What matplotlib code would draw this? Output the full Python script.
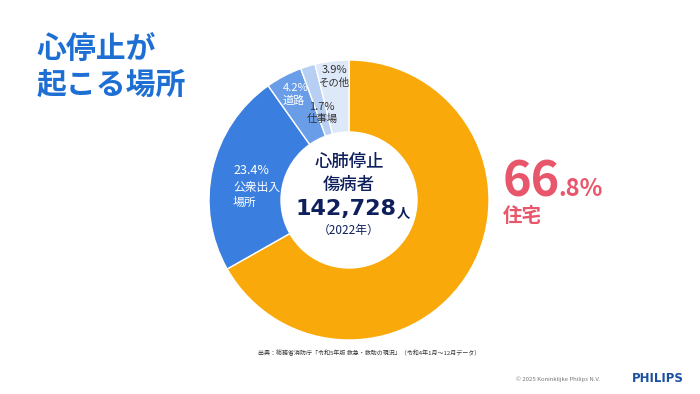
import matplotlib.pyplot as plt
from matplotlib.patches import Circle

plt.rcParams['font.family'] = ['Noto Sans CJK JP', 'DejaVu Sans']

# --- data ---
places = ['住宅', '公衆出入場所', '道路', '仕事場', 'その他']
shares = [66.8, 23.4, 4.2, 1.7, 3.9]
colors = ['#F9A90A', '#3A7FE0', '#6A9DE8', '#B7CFF3', '#DDE8F8']
total_patients = '142,728'
year = 2022

fig = plt.figure(figsize=(7, 3.94), dpi=100)
ax = fig.add_axes([0, 0, 1, 1])

H = 394
cx, cy = 349, H - 200
ax.pie(shares, colors=colors, startangle=90, counterclock=False,
       center=(cx, cy), radius=140, frame=True,
       wedgeprops=dict(edgecolor='white', linewidth=1.0, width=140))
ax.add_patch(Circle((cx, cy), 68, color='white', zorder=3))
ax.set_xlim(0, 700)
ax.set_ylim(0, 394)
ax.set_aspect('equal')
ax.axis('off')

# title
title_c = '#1E6FD3'
ax.text(37, H - 50, '心停止が', fontsize=21.5, fontweight='bold', color=title_c, va='center')
ax.text(37, H - 85, '起こる場所', fontsize=21.5, fontweight='bold', color=title_c, va='center')

# wedge labels
ax.text(233, H - 170, f'{shares[1]}%', fontsize=9, color='white', va='center')
ax.text(233, H - 187, '公衆出入', fontsize=8.5, color='white', va='center')
ax.text(233, H - 202, '場所', fontsize=8.5, color='white', va='center')
ax.text(296, H - 88, f'{shares[2]}%', fontsize=8, color='white', va='center', ha='center')
ax.text(294, H - 101, places[2], fontsize=8, color='white', va='center', ha='center')
ax.text(322, H - 107, f'{shares[3]}%', fontsize=8, color='#333333', va='center', ha='center')
ax.text(322, H - 119, places[3], fontsize=7.5, color='#333333', va='center', ha='center')
ax.text(334, H - 70, f'{shares[4]}%', fontsize=8, color='#333333', va='center', ha='center')
ax.text(334, H - 83, places[4], fontsize=7.5, color='#333333', va='center', ha='center')

# center text
navy = '#0E1F5C'
ax.text(cx, H - 162, '心肺停止', fontsize=12.5, fontweight='medium', color=navy,
        ha='center', va='center', zorder=4)
ax.text(cx, H - 185, '傷病者', fontsize=12.5, fontweight='medium', color=navy,
        ha='center', va='center', zorder=4)
ax.text(cx - 3, H - 209, total_patients, fontsize=16, fontweight='bold', color=navy,
        ha='center', va='center', zorder=4, family=['DejaVu Sans'])
ax.text(cx + 54, H - 213, '人', fontsize=9.5, fontweight='bold', color=navy, ha='center', va='center', zorder=4)
ax.text(cx, H - 230, f'（{year}年）', fontsize=8.5, color=navy, ha='center', va='center', zorder=4)

# big percentage
pink = '#E8566B'
main = f'{shares[0]}'.split('.')
ax.text(503, H - 196, main[0], fontsize=35, fontweight='bold', color=pink, va='baseline')
ax.text(558, H - 196, f'.{main[1]}%', fontsize=17, fontweight='bold', color=pink, va='baseline')
ax.text(503, H - 216, places[0], fontsize=14, fontweight='bold', color=pink, va='center')

# footer
ax.text(258, H - 353, '出典：総務省消防庁「令和5年版 救急・救助の現況」（令和4年1月〜12月データ）',
        fontsize=4.3, color='#333333', va='center')
ax.text(516, H - 379, '© 2025 Koninklijke Philips N.V.', fontsize=4.3, color='#777777', va='center')
ax.text(632, H - 379, 'PHILIPS', fontsize=8.5, fontweight='bold', color='#1B4FA0', va='center',
        family=['DejaVu Sans'])

fig.savefig('out.png', dpi=100)
